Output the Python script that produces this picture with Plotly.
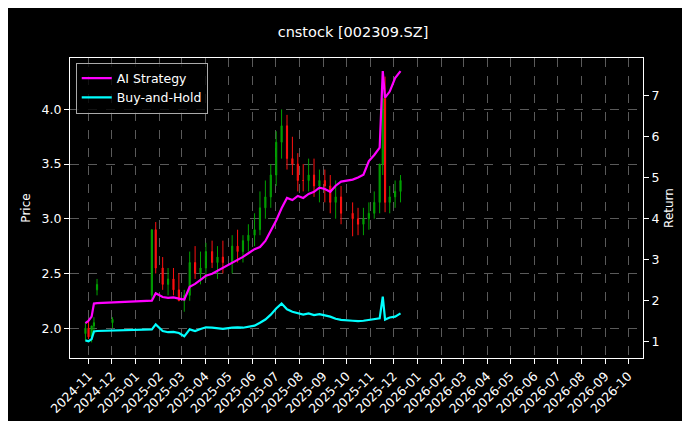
import plotly.graph_objects as go

dates = ["2024-10-28","2024-11-01","2024-11-05","2024-11-08","2024-11-12","2024-12-02",
         "2025-01-22","2025-01-27","2025-02-05","2025-02-12","2025-02-19","2025-02-26","2025-03-05",
         "2025-03-12","2025-03-19","2025-03-26","2025-04-02","2025-04-10","2025-04-17","2025-04-24",
         "2025-05-06","2025-05-13","2025-05-20","2025-05-27","2025-06-04","2025-06-11","2025-06-18",
         "2025-06-25","2025-07-02","2025-07-09","2025-07-16","2025-07-23","2025-07-30","2025-08-06",
         "2025-08-13","2025-08-20","2025-08-27","2025-09-03","2025-09-10","2025-09-17","2025-09-24",
         "2025-10-09","2025-10-16","2025-10-23","2025-10-30","2025-11-06","2025-11-13","2025-11-17",
         "2025-11-20","2025-11-26","2025-12-03","2025-12-10"]
open_ = [1.95,2.00,1.92,2.02,2.35,2.05,2.30,2.90,2.55,2.40,2.45,2.35,2.25,
         2.30,2.60,2.50,2.55,2.70,2.60,2.65,2.60,2.75,2.70,2.80,2.85,2.90,3.10,
         3.20,3.40,3.70,3.85,3.55,3.50,3.35,3.35,3.40,3.30,3.35,3.30,3.15,3.20,
         3.05,3.00,2.95,3.00,3.05,3.15,3.50,4.10,3.15,3.20,3.25]
high = [2.05,2.08,2.02,2.10,2.45,2.10,2.50,2.97,2.65,2.55,2.55,2.50,2.35,
        2.70,2.75,2.70,2.78,2.80,2.75,2.80,2.85,2.90,2.85,2.95,3.05,3.25,3.35,
        3.50,3.80,4.00,3.95,3.75,3.60,3.50,3.55,3.55,3.45,3.45,3.40,3.35,3.30,
        3.15,3.10,3.10,3.15,3.25,3.50,4.32,4.30,3.30,3.35,3.40]
low = [1.88,1.90,1.87,1.95,2.30,2.00,2.25,2.50,2.35,2.30,2.30,2.25,2.15,
       2.25,2.45,2.40,2.45,2.55,2.45,2.50,2.50,2.60,2.60,2.70,2.75,2.85,3.00,
       3.10,3.30,3.55,3.45,3.40,3.25,3.25,3.25,3.20,3.15,3.15,3.05,3.00,2.95,
       2.84,2.85,2.85,2.90,3.00,3.05,3.40,3.06,3.05,3.10,3.15]
close = [2.00,1.92,2.02,2.05,2.40,2.08,2.90,2.55,2.40,2.45,2.35,2.25,2.30,
         2.60,2.50,2.55,2.70,2.60,2.65,2.60,2.75,2.70,2.80,2.85,2.90,3.10,3.20,
         3.40,3.70,3.85,3.55,3.50,3.35,3.35,3.40,3.30,3.35,3.30,3.15,3.20,3.05,
         3.00,2.95,3.00,3.05,3.15,3.50,4.10,3.15,3.20,3.25,3.35]
ai_ret = [1.44,1.50,1.60,1.92,1.93,1.95,1.99,2.17,2.08,2.06,2.07,2.04,2.02,
          2.33,2.40,2.50,2.60,2.65,2.72,2.80,2.92,3.00,3.06,3.15,3.25,3.30,3.45,
          3.70,3.95,4.25,4.50,4.45,4.55,4.50,4.60,4.65,4.75,4.72,4.65,4.80,4.90,
          4.95,5.00,5.07,5.40,5.55,5.73,7.60,6.95,7.10,7.43,7.60]
bh_ret = [1.02,1.00,1.05,1.24,1.25,1.26,1.29,1.41,1.25,1.22,1.23,1.20,1.12,
          1.29,1.25,1.30,1.34,1.33,1.32,1.30,1.33,1.34,1.33,1.36,1.38,1.45,1.53,
          1.65,1.80,1.92,1.78,1.72,1.68,1.65,1.68,1.64,1.66,1.63,1.60,1.55,1.52,
          1.50,1.49,1.50,1.52,1.53,1.56,2.09,1.53,1.58,1.60,1.68]

fig = go.Figure()
fig.add_trace(go.Candlestick(x=dates, open=open_, high=high, low=low, close=close,
    increasing=dict(line=dict(color="#00a000", width=1), fillcolor="#00a000"),
    decreasing=dict(line=dict(color="#ff1010", width=1), fillcolor="#ff1010"),
    whiskerwidth=0, showlegend=False, yaxis="y"))
fig.add_trace(go.Scatter(x=dates, y=ai_ret, mode="lines", name="AI Strategy",
    line=dict(color="#ff00ff", width=2.2), yaxis="y2"))
fig.add_trace(go.Scatter(x=dates, y=bh_ret, mode="lines", name="Buy-and-Hold",
    line=dict(color="#00ffff", width=2.2), yaxis="y2"))

months = ["2024-11","2024-12","2025-01","2025-02","2025-03","2025-04","2025-05","2025-06",
          "2025-07","2025-08","2025-09","2025-10","2025-11","2025-12","2026-01","2026-02",
          "2026-03","2026-04","2026-05","2026-06","2026-07","2026-08","2026-09","2026-10"]
grid = dict(showgrid=True, gridcolor="#5a5a5a", griddash="dash", gridwidth=0.6)
fig.update_layout(
    width=690, height=421, paper_bgcolor="black", plot_bgcolor="black",
    font=dict(family="DejaVu Sans", color="white", size=12.5),
    title=dict(text="cnstock [002309.SZ]", x=0.5, xanchor="center", y=0.955, font=dict(size=14.5)),
    margin=dict(l=62, r=55, t=50, b=71),
    showlegend=True,
    legend=dict(x=0.01, y=0.985, xanchor="left", yanchor="top", bgcolor="rgba(0,0,0,0.8)",
                bordercolor="#aaa", borderwidth=1, font=dict(size=12.5)),
    xaxis=dict(type="date", range=["2024-10-08","2026-10-20"], rangeslider=dict(visible=False),
               tickvals=[m + "-01" for m in months], ticktext=months, tickangle=-45,
               ticks="outside", tickcolor="white", linecolor="white", showline=True, mirror=True,
               **grid),
    yaxis=dict(title=dict(text="Price", font=dict(size=12), standoff=8), range=[1.727, 4.47],
               tickvals=[2.0,2.5,3.0,3.5,4.0],
               ticktext=["2.0","2.5","3.0","3.5","4.0"], ticks="outside", tickcolor="white",
               linecolor="white", showline=True, **grid),
    yaxis2=dict(title=dict(text="Return", font=dict(size=12), standoff=6), overlaying="y",
                side="right", range=[0.59, 7.92],
                tickvals=[1,2,3,4,5,6,7], ticks="outside", tickcolor="white",
                linecolor="white", showline=True, showgrid=False),
)
fig.write_html("out.html")
